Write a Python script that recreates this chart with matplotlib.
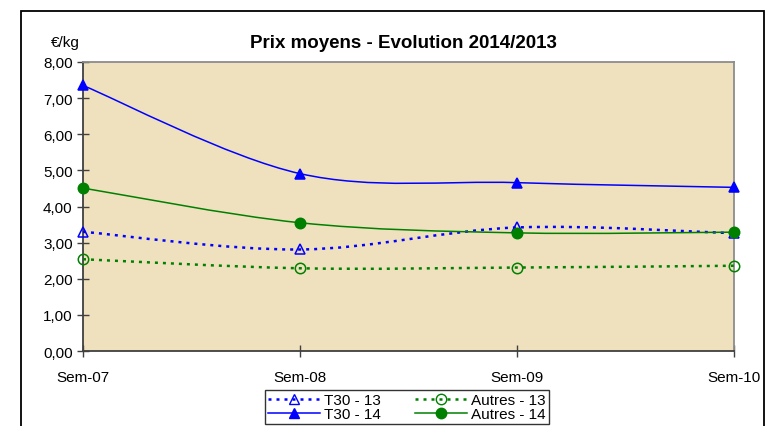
import matplotlib
matplotlib.use("Agg")
import matplotlib.pyplot as plt
from matplotlib.path import Path
from matplotlib.patches import PathPatch, Rectangle
from matplotlib.lines import Line2D

plt.rcParams['font.family'] = ['Liberation Sans', 'DejaVu Sans']

# données
semaines = ["Sem-07", "Sem-08", "Sem-09", "Sem-10"]
t30_13 = [3.30, 2.81, 3.42, 3.26]
t30_14 = [7.35, 4.91, 4.66, 4.53]
autres_13 = [2.54, 2.29, 2.31, 2.36]
autres_14 = [4.51, 3.55, 3.27, 3.29]

titre = "Prix moyens - Evolution 2014/2013"
unite = "€/kg"
yticks = [0, 1, 2, 3, 4, 5, 6, 7, 8]


def courbe_lissee(xs, ys):
    # courbe de Bézier façon "lissage" Excel
    pts = list(zip(xs, ys))
    verts = [pts[0]]
    codes = [Path.MOVETO]
    n = len(pts)
    for i in range(n - 1):
        p0 = pts[i - 1] if i > 0 else pts[i]
        p1 = pts[i]
        p2 = pts[i + 1]
        p3 = pts[i + 2] if i + 2 < n else pts[i + 1]
        c1 = (p1[0] + (p2[0] - p0[0]) / 6, p1[1] + (p2[1] - p0[1]) / 6)
        c2 = (p2[0] - (p3[0] - p1[0]) / 6, p2[1] - (p3[1] - p1[1]) / 6)
        verts += [c1, c2, p2]
        codes += [Path.CURVE4] * 3
    return Path(verts, codes)


fig = plt.figure(figsize=(7.67, 4.27), dpi=100)
ax = fig.add_axes([83 / 767, 1 - 352 / 427, (734 - 83) / 767, (352 - 63) / 427])
ax.set_facecolor('#F0E1BE')

x = list(range(len(semaines)))
series = [
    (t30_13, 'T30 - 13', 'blue', '^', 'none', (0, (1.2, 2.0))),
    (t30_14, 'T30 - 14', 'blue', '^', 'blue', '-'),
    (autres_13, 'Autres - 13', 'green', 'o', 'none', (0, (1.2, 2.0))),
    (autres_14, 'Autres - 14', 'green', 'o', 'green', '-'),
]

handles = []
for vals, nom, coul, mk, fc, ls in series:
    lw = 1.8 if ls != '-' else 1.1
    patch = PathPatch(courbe_lissee(x, vals), fill=False, edgecolor=coul,
                      linewidth=lw, linestyle=ls, zorder=3, clip_on=False)
    ax.add_patch(patch)
    ax.plot(x, vals, linestyle='none', marker=mk, markersize=7.5,
            markerfacecolor=fc, markeredgecolor=coul, markeredgewidth=1.1,
            zorder=4, clip_on=False)
    handles.append(Line2D([], [], color=coul, linewidth=lw, linestyle=ls,
                          marker=mk, markersize=7.5, markerfacecolor=fc,
                          markeredgecolor=coul, label=nom))

ax.set_xlim(0, 3)
ax.set_ylim(0, 8)
ax.set_xticks(x)
ax.set_xticklabels(semaines, fontsize=11)
ax.set_yticks(yticks)
ax.set_yticklabels([f"{v:.2f}".replace('.', ',') for v in yticks], fontsize=11)
ax.tick_params(axis='y', direction='inout', length=9, width=1, pad=3,
               color='#404040')
ax.tick_params(axis='x', direction='inout', length=9, width=1, pad=9,
               color='#404040')
for s in ['left', 'bottom']:
    ax.spines[s].set_color('#404040')
    ax.spines[s].set_linewidth(1.3)
for s in ['top', 'right']:
    ax.spines[s].set_color('#8C8C8C')
    ax.spines[s].set_linewidth(1.3)

fig.text(403 / 767, 1 - 43 / 427, titre, ha='center', va='center',
         fontsize=13.5, fontweight='bold')
fig.text(51 / 767, 1 - 43 / 427, unite, ha='left', va='center', fontsize=11)

leg = fig.legend(handles=handles, ncol=2, loc='upper center',
                 bbox_to_anchor=(407 / 767, 1 - 391 / 427), fontsize=11,
                 frameon=True, fancybox=False, handlelength=3.4,
                 handletextpad=0.3, columnspacing=2.2, labelspacing=0.0,
                 borderpad=0.2, borderaxespad=0)
leg.get_frame().set_edgecolor('black')
leg.get_frame().set_linewidth(1.0)

# cadre extérieur du graphique
fig.patches.append(Rectangle((21 / 767, -0.05), (764 - 21) / 767, 1.05 - 12 / 427,
                             transform=fig.transFigure, fill=False,
                             edgecolor='black', linewidth=1.3))

fig.savefig('out.png', dpi=100)
